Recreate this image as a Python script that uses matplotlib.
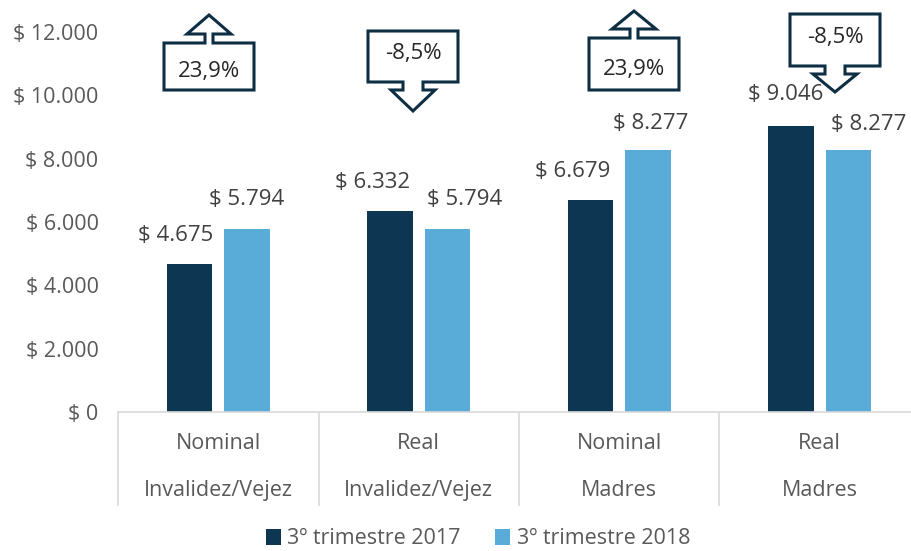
import matplotlib
matplotlib.use("Agg")
import matplotlib.pyplot as plt
from matplotlib.patches import Polygon
import numpy as np

categories_top = ["Nominal", "Real", "Nominal", "Real"]
categories_bottom = ["Invalidez/Vejez", "Invalidez/Vejez", "Madres", "Madres"]
series_names = ["3º trimestre 2017", "3º trimestre 2018"]
values_2017 = [4675, 6332, 6679, 9046]
values_2018 = [5794, 5794, 8277, 8277]
changes = ["23,9%", "-8,5%", "23,9%", "-8,5%"]
ytick_vals = [0, 2000, 4000, 6000, 8000, 10000, 12000]

DARK = "#0C3651"
LIGHT = "#59ACD8"
TXT = "#595959"
FONT = "Open Sans"

# label horizontal nudges (pixels), as placed in the original
dx_2017 = [-14, -18, -18, -5]
dx_2018 = [0, 17, 3, 20]
dy_2017 = [0, 0, 0, 2]
dy_2018 = [0, 0, -2, -3]

def fmt(v):
    return "$ " + f"{v:,}".replace(",", ".")

W, H = 912, 551
fig = plt.figure(figsize=(W / 100, H / 100), dpi=100)
plt.rcParams["font.family"] = [FONT, "DejaVu Sans"]

L, R, T, B = 118, 920, 32, 412
ax = fig.add_axes([L / W, 1 - B / H, (R - L) / W, (B - T) / H])
ax.set_xlim(0, 4)
ax.set_ylim(0, 12000)

x = np.arange(4) + 0.5
bw = 0.228
off = 0.143
ax.bar(x - off, values_2017, width=bw, color=DARK, label=series_names[0])
ax.bar(x + off, values_2018, width=bw, color=LIGHT, label=series_names[1])

for xi, v, dx, dy in zip(x - off, values_2017, dx_2017, dy_2017):
    ax.annotate(fmt(v), (xi, v), xytext=(dx * 0.72, 13 + dy * 0.72), textcoords="offset points",
                ha="center", va="bottom", fontsize=16, color="#404040")
for xi, v, dx, dy in zip(x + off, values_2018, dx_2018, dy_2018):
    ax.annotate(fmt(v), (xi, v), xytext=(dx * 0.72, 13 + dy * 0.72), textcoords="offset points",
                ha="center", va="bottom", fontsize=16, color="#404040")

for s in ["top", "right", "left"]:
    ax.spines[s].set_visible(False)
ax.spines["bottom"].set_color("#D9D9D9")
ax.spines["bottom"].set_linewidth(1.2)
ax.set_xticks([])
ax.set_yticks(ytick_vals)
ax.set_yticklabels([fmt(v) for v in ytick_vals], fontsize=15.5, color=TXT)
ax.tick_params(axis="y", length=0, pad=14)

# category separators and labels
for i in range(5):
    ax.plot([i, i], [0, -2950], color="#D9D9D9", lw=1.2, clip_on=False)
for i in range(4):
    ax.text(i + 0.5, -1000, categories_top[i], ha="center", va="center", fontsize=15.5, color=TXT)
    ax.text(i + 0.5, -2470, categories_bottom[i], ha="center", va="center", fontsize=15.5, color=TXT)

# callouts (pixel coords -> figure fraction)
def fx(px):
    return px / W
def fy(py):
    return 1 - py / H

def callout(cx, box_top, box_bot, up, text, tip):
    hw = 45
    aw = 22
    if up:
        sw = 4
        head_base = box_top - 9
        pts = [(cx - hw, box_bot), (cx + hw, box_bot), (cx + hw, box_top),
               (cx + sw, box_top), (cx + sw, head_base), (cx + aw, head_base),
               (cx, tip), (cx - aw, head_base), (cx - sw, head_base),
               (cx - sw, box_top), (cx - hw, box_top)]
        ty = (box_top + box_bot) / 2 + 5
    else:
        sw = 10
        head_base = box_bot + 8
        pts = [(cx - hw, box_top), (cx + hw, box_top), (cx + hw, box_bot),
               (cx + sw, box_bot), (cx + sw, head_base), (cx + aw, head_base),
               (cx, tip), (cx - aw, head_base), (cx - sw, head_base),
               (cx - sw, box_bot), (cx - hw, box_bot)]
        ty = (box_top + box_bot) / 2 - 3
    poly = Polygon([(fx(a), fy(b)) for a, b in pts], closed=True, transform=fig.transFigure,
                   facecolor="white", edgecolor="#0E2E44", lw=2.2, joinstyle="miter")
    fig.add_artist(poly)
    fig.text(fx(cx), fy(ty), text, ha="center", va="center", fontsize=16, color="#262626")

callout(209, 43, 90, True, changes[0], 15)
callout(413, 31, 82, False, changes[1], 111)
callout(634, 38, 90, True, changes[2], 11)
callout(835, 14, 66, False, changes[3], 92)

leg = fig.legend(loc="center", bbox_to_anchor=(478 / W, 1 - 539 / H), ncol=2, frameon=False,
                 fontsize=15.5, handlelength=0.7, handleheight=0.7, handletextpad=0.3,
                 columnspacing=1.6, labelcolor=TXT)

fig.savefig("out.png", dpi=100)
